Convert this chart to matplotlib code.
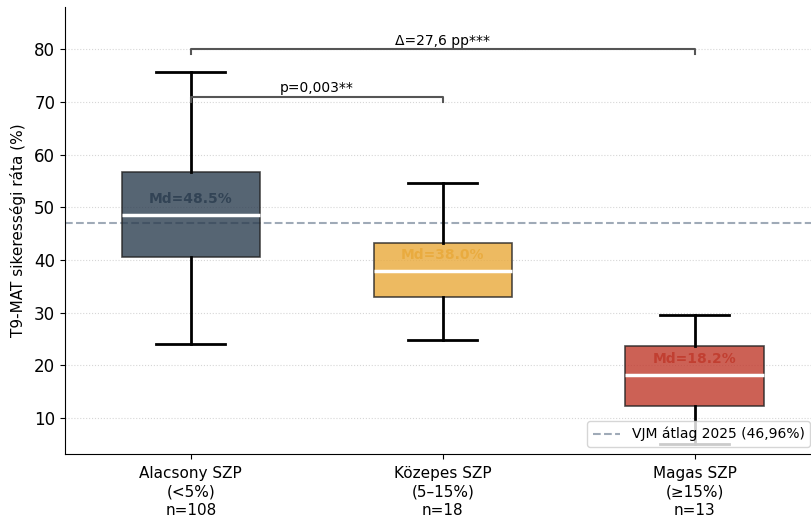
import matplotlib.pyplot as plt
import numpy as np

# Adatok
kategoriak = ['Alacsony SZP\n(<5%)\nn=108', 'Közepes SZP\n(5–15%)\nn=18', 'Magas SZP\n(≥15%)\nn=13']
median = [48.5, 38.0, 18.2]
q1 = [40.5, 33.0, 12.3]
q3 = [56.7, 43.2, 23.7]
whis_lo = [24.0, 24.8, 5.1]
whis_hi = [75.6, 54.6, 29.5]
vjm_atlag = 46.96
szinek = ['#2c3e50', '#e9a93a', '#c0392b']
alfa = [0.8, 0.8, 0.8]

fig = plt.figure(figsize=(8.11, 5.18), dpi=100)
ax = fig.add_axes([0.080, 0.1236, 0.932, 0.863])

stats = []
for i in range(len(kategoriak)):
    stats.append({'med': median[i], 'q1': q1[i], 'q3': q3[i],
                  'whislo': whis_lo[i], 'whishi': whis_hi[i], 'fliers': []})

bp = ax.bxp(stats, positions=np.arange(len(kategoriak)), widths=0.55,
            patch_artist=True, showfliers=False,
            boxprops=dict(edgecolor='#222222', linewidth=1.2),
            medianprops=dict(color='white', linewidth=2.5),
            whiskerprops=dict(color='black', linewidth=2),
            capprops=dict(color='black', linewidth=2))
for patch, c, a in zip(bp['boxes'], szinek, alfa):
    patch.set_facecolor(c)
    patch.set_alpha(a)
    patch.set_edgecolor('#222222')

# Medián címkék
for i, m in enumerate(median):
    ax.text(i, m + 3, f'Md={m:.1f}%', ha='center', va='center',
            fontsize=10, fontweight='bold', color=szinek[i], alpha=0.85)

# VJM átlag
ax.axhline(vjm_atlag, color='#8e9bab', linestyle='--', linewidth=1.5, alpha=0.85,
           label='VJM átlag 2025 (46,96%)', zorder=0)

# Szignifikancia jelölések
def bracket(x1, x2, y, h, szoveg):
    ax.plot([x1, x1, x2, x2], [y - h, y, y, y - h], color='#555555', linewidth=1.5)
    ax.text((x1 + x2) / 2, y + 0.3, szoveg, ha='center', va='bottom', fontsize=10)

bracket(0, 2, 80, 1, 'Δ=27,6 pp***')
bracket(0, 1, 71, 1, 'p=0,003**')

ax.set_xlim(-0.5, 2.5)
ax.set_ylim(3.2, 88)
ax.set_yticks([10, 20, 30, 40, 50, 60, 70, 80])
ax.set_xticks(np.arange(len(kategoriak)))
ax.set_xticklabels(kategoriak, fontsize=11, linespacing=1.3)
ax.tick_params(axis='x', pad=5)
ax.tick_params(axis='y', labelsize=12)
ax.set_ylabel('T9-MAT sikerességi ráta (%)', fontsize=11, labelpad=6)
ax.grid(axis='y', linestyle=':', color='#cccccc', alpha=0.8)
ax.set_axisbelow(True)
ax.spines['top'].set_visible(False)
ax.spines['right'].set_visible(False)

ax.legend(loc='lower right', fontsize=10, bbox_to_anchor=(0.995, 0.0))

plt.savefig('out.png', dpi=100)
